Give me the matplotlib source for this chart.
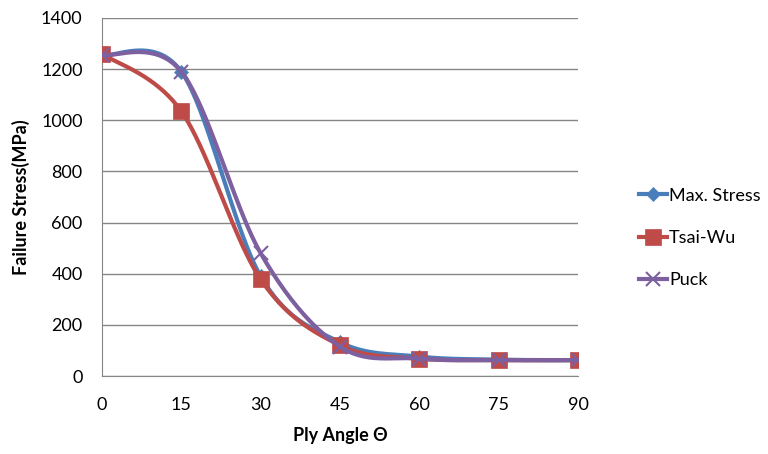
import numpy as np
import matplotlib
matplotlib.use("Agg")
import matplotlib.pyplot as plt
from matplotlib.lines import Line2D

plt.rcParams['font.family'] = ['Lato', 'DejaVu Sans']

angles = [0, 15, 30, 45, 60, 75, 90]
max_stress = [1255, 1190, 390, 132, 76, 64, 62]
tsai_wu = [1260, 1035, 378, 120, 68, 62, 62]
puck = [1255, 1190, 480, 115, 68, 62, 62]
series_names = ["Max. Stress", "Tsai-Wu", "Puck"]
y_ticks = [0, 200, 400, 600, 800, 1000, 1200, 1400]
x_ticks = [0, 15, 30, 45, 60, 75, 90]

colors = ["#4A7EBB", "#BE4B48", "#7D60A0"]
markers = ["D", "s", "x"]
msizes = [7, 11, 10]


def excel_smooth(x, y, n=40):
    P = np.column_stack([x, y]).astype(float)
    ext = np.vstack([P[0], P, P[-1]])
    out = []
    t = np.linspace(0, 1, n)[:, None]
    for i in range(len(P) - 1):
        p0, p1 = ext[i + 1], ext[i + 2]
        c1 = p0 + (ext[i + 2] - ext[i]) / 6.0
        c2 = p1 - (ext[i + 3] - ext[i + 1]) / 6.0
        seg = ((1 - t) ** 3) * p0 + 3 * ((1 - t) ** 2) * t * c1 + 3 * (1 - t) * t ** 2 * c2 + t ** 3 * p1
        out.append(seg if i == 0 else seg[1:])
    s = np.vstack(out)
    return s[:, 0], s[:, 1]


fig = plt.figure(figsize=(7.68, 4.54), dpi=100)
ax = fig.add_axes([0.1328, 0.1718, 0.7526 - 0.1328, 0.9604 - 0.1718])

for vals, c, m, ms, z in zip([max_stress, tsai_wu, puck], colors, markers, msizes, [2, 3, 4]):
    sx, sy = excel_smooth(angles, vals)
    ax.plot(sx, sy, color=c, lw=3, zorder=z, solid_capstyle='round')
    ax.plot(angles, vals, linestyle='none', marker=m, color=c, markersize=ms,
            markeredgewidth=1.5 if m == 'x' else 0.5, zorder=z + 0.5)

ax.set_xlim(0, 90)
ax.set_ylim(0, 1400)
ax.set_xticks(x_ticks)
ax.set_yticks(y_ticks)
ax.tick_params(axis='both', length=0, labelsize=13)
ax.tick_params(axis='x', pad=15)
ax.tick_params(axis='y', pad=14)
ax.yaxis.grid(True, color='#868686', lw=1)
ax.set_axisbelow(True)
for s in ['top', 'right']:
    ax.spines[s].set_visible(False)
for s in ['left', 'bottom']:
    ax.spines[s].set_color('#868686')
ax.set_xlabel("Ply Angle Θ", fontsize=13, fontweight='bold', labelpad=10)
ax.set_ylabel("Failure Stress(MPa)", fontsize=13, fontweight='bold', labelpad=8)

handles = [Line2D([0], [0], color=c, lw=3, marker=m, markersize=ms, markeredgewidth=1.5 if m == 'x' else 0.5)
           for c, m, ms in zip(colors, markers, msizes)]
fig.legend(handles, series_names, loc='center left', bbox_to_anchor=(0.822, 0.476),
           frameon=False, fontsize=13, handlelength=1.6, handletextpad=0.1,
           labelspacing=1.45, borderaxespad=0)

fig.savefig("out.png", dpi=100)
